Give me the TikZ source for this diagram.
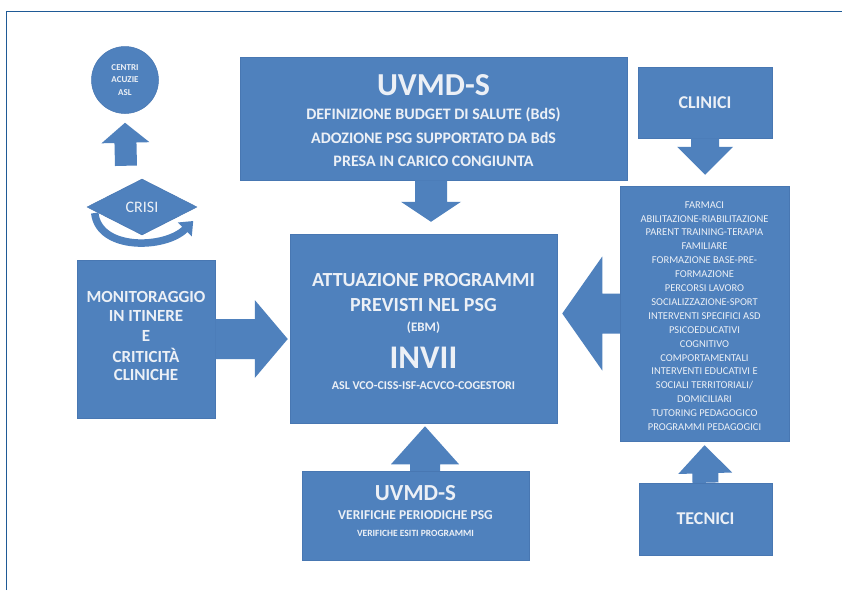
\documentclass[tikz,border=0pt]{standalone}
\usepackage{fontspec}
\setmainfont{Carlito}
\usetikzlibrary{calc,shapes.geometric,arrows.meta}
\definecolor{boxblue}{RGB}{79,129,189}
\definecolor{edgeblue}{RGB}{72,119,178}
\definecolor{frameblue}{RGB}{31,90,150}
\definecolor{txtwhite}{RGB}{236,240,246}

% block arrow: start, tip, shaft half width, head half width, head length
\newcommand\blockarrow[5]{%
  \path coordinate (ba-base) at ($(#2)!#5!(#1)$);
  \fill[boxblue] ($(#1)!#3!90:(#2)$) -- ($(ba-base)!#3!90:(#2)$)
    -- ($(ba-base)!#4!90:(#2)$) -- (#2) -- ($(ba-base)!#4!-90:(#2)$)
    -- ($(ba-base)!#3!-90:(#2)$) -- ($(#1)!#3!-90:(#2)$) -- cycle;
}
\newcommand\fs[1]{\fontsize{#1}{#1}\selectfont}

\tikzset{
  box/.style={rectangle, fill=boxblue, draw=edgeblue, line width=0.5pt,
    text=txtwhite, align=center, inner sep=0pt},
  lbl/.style={text=txtwhite, inner sep=0pt},
}

\begin{document}
\begin{tikzpicture}[x=1pt, y=-1pt]
\useasboundingbox (0,0) rectangle (842,590);
\fill[white] (0,0) rectangle (842,590);

% outer frame
\draw[frameblue, line width=1pt] (6,590) -- (6,11) -- (842,11);

% top box: budget definition
\node[box, minimum width=387pt, minimum height=123pt] (uvmd) at (433.5,118.5) {};
\node[lbl, font=\bfseries\fs{32}] (uvmd1) at (433.5,85) {UVMD-S};
\node[lbl, font=\bfseries\fs{16}] (uvmd2) at (433.5,115) {DEFINIZIONE BUDGET DI SALUTE (BdS)};
\node[lbl, font=\bfseries\fs{16}] (uvmd3) at (433.5,138) {ADOZIONE PSG SUPPORTATO DA BdS};
\node[lbl, font=\bfseries\fs{16}] (uvmd4) at (433.5,161) {PRESA IN CARICO CONGIUNTA};

% central box
\node[box, minimum width=267pt, minimum height=189pt] (attua) at (423.5,328.5) {};
\node[lbl, font=\bfseries\fs{20}] (attua1) at (423.5,280) {ATTUAZIONE PROGRAMMI};
\node[lbl, font=\bfseries\fs{20}] (attua2) at (423.5,305) {PREVISTI NEL PSG};
\node[lbl, font=\bfseries\fs{13}] (attua3) at (423.5,328) {(EBM)};
\node[lbl, font=\bfseries\fs{33}] (attua4) at (423.5,358) {INVII};
\node[lbl, font=\bfseries\fs{12}] (attua5) at (423.5,386) {ASL VCO-CISS-ISF-ACVCO-COGESTORI};

% left box: monitoring
\node[box, minimum width=138pt, minimum height=158pt] (monit) at (146,339) {};
\node[lbl, font=\bfseries\fs{17}] (monit1) at (146,297) {MONITORAGGIO};
\node[lbl, font=\bfseries\fs{17}] (monit2) at (146,316) {IN ITINERE};
\node[lbl, font=\bfseries\fs{17}] (monit3) at (146,336) {E};
\node[lbl, font=\bfseries\fs{17}] (monit4) at (146,355) {CRITICITÀ};
\node[lbl, font=\bfseries\fs{17}] (monit5) at (146,375) {CLINICHE};

% clinicians and technicians
\node[box, minimum width=134pt, minimum height=71pt, font=\bfseries\fs{18}] (clinici) at (705,102.5) {CLINICI};
\node[box, minimum width=133pt, minimum height=72pt, font=\bfseries\fs{18}] (tecnici) at (705.5,519) {TECNICI};

% right box: list of interventions
\node[box, minimum width=169pt, minimum height=255pt] (interv) at (704.5,313.5) {};
\node[lbl, align=center, font=\fontsize{10.5}{13.9}\selectfont] (intervtxt) at (704.5,316) {%
  FARMACI\\ ABILITAZIONE-RIABILITAZIONE\\ PARENT TRAINING-TERAPIA\\ FAMILIARE\\
  FORMAZIONE BASE-PRE-\\ FORMAZIONE\\ PERCORSI LAVORO\\ SOCIALIZZAZIONE-SPORT\\
  INTERVENTI SPECIFICI ASD\\ PSICOEDUCATIVI\\ COGNITIVO\\ COMPORTAMENTALI\\
  INTERVENTI EDUCATIVI E\\ SOCIALI TERRITORIALI/\\ DOMICILIARI\\
  TUTORING PEDAGOGICO\\ PROGRAMMI PEDAGOGICI};

% bottom box: periodic checks
\node[box, minimum width=227pt, minimum height=89pt] (verif) at (415.5,515.5) {};
\node[lbl, font=\bfseries\fs{23}] (verif1) at (415.5,493) {UVMD-S};
\node[lbl, font=\bfseries\fs{13.5}] (verif2) at (415.5,515) {VERIFICHE PERIODICHE PSG};
\node[lbl, font=\bfseries\fs{9.5}] (verif3) at (415.5,533) {VERIFICHE ESITI PROGRAMMI};

% crisis path
\node[circle, fill=boxblue, draw=edgeblue, line width=0.5pt, minimum size=67pt,
  inner sep=0pt, text=txtwhite, align=center,
  font=\bfseries\fontsize{9}{12.5}\selectfont] (centri) at (125,80)
  {CENTRI\\ ACUZIE\\ ASL};

\node[diamond, fill=boxblue, draw=edgeblue, line width=0.5pt, inner sep=0pt,
  minimum width=110pt, minimum height=56pt, text=txtwhite,
  font=\fs{16}] (crisi) at (142,207) {CRISI};

% curved return arrow under the diamond
\coordinate (cs) at ($(crisi.west)+(8,6)$);
\coordinate (ce) at ($(crisi.east)+(-4,14)$);
\draw[boxblue, line width=7.5pt, -{Triangle[length=12pt,width=19pt]}]
  (cs) .. controls +(4,38) and +(-28,28) .. (ce);

% block arrows between the nodes
\coordinate (a1s) at ([xshift=-2.5pt]uvmd.south);
\coordinate (a1e) at ([xshift=7.5pt,yshift=12pt]attua.north);
\blockarrow{a1s}{a1e}{16pt}{30pt}{20pt}

\coordinate (a2s) at (clinici.south);
\coordinate (a2e) at ([xshift=0.5pt,yshift=11pt]interv.north);
\blockarrow{a2s}{a2e}{14pt}{28pt}{28pt}

\coordinate (a3s) at (interv.west);
\coordinate (a3e) at ($(attua.east |- interv.west)+(5,0)$);
\blockarrow{a3s}{a3e}{20pt}{57pt}{40pt}

\coordinate (a4s) at (monit.east);
\coordinate (a4e) at ($(attua.west |- monit.east)+(-2,0)$);
\blockarrow{a4s}{a4e}{20pt}{39pt}{33pt}

\coordinate (a5s) at (tecnici.north);
\coordinate (a5e) at ([yshift=-4pt]interv.south);
\blockarrow{a5s}{a5e}{13pt}{27pt}{28pt}

\coordinate (a6s) at ([xshift=9.5pt]verif.north);
\coordinate (a6e) at ([xshift=1.5pt,yshift=-3pt]attua.south);
\blockarrow{a6s}{a6e}{15pt}{34pt}{38pt}

\coordinate (a7s) at ($(crisi.north)+(-16,-13)$);
\coordinate (a7e) at ($(centri.south)+(0,9)$);
\blockarrow{a7s}{a7e}{11pt}{24pt}{20pt}
\end{tikzpicture}
\end{document}
